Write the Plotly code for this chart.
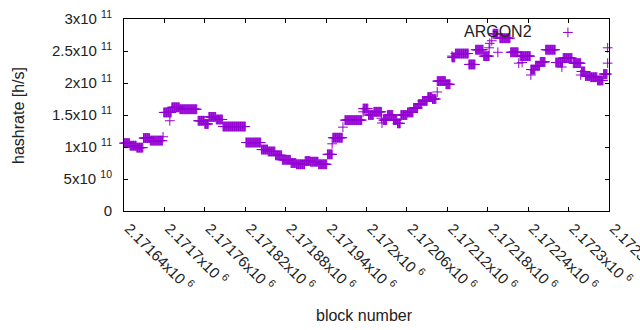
import plotly.graph_objects as go

# Run-length segments of constant hashrate (first block, last block, value)
seg_start = [2171640, 2171649, 2171659, 2171669, 2171679, 2171699, 2171711, 2171723,
             2171750, 2171760, 2171766, 2171777, 2171787, 2171821, 2171844, 2171854,
             2171865, 2171875, 2171888, 2171896, 2171909, 2171917, 2171929, 2171942,
             2171950, 2171968, 2171995, 2172003, 2172011, 2172025, 2172031, 2172040,
             2172046, 2172051, 2172061, 2172070, 2172077, 2172083, 2172091, 2172098,
             2172105, 2172118, 2172127, 2172132, 2172152, 2172162, 2172174, 2172188,
             2172198, 2172214, 2172228, 2172244, 2172251, 2172258, 2172266, 2172281,
             2172292, 2172307, 2172319, 2172325, 2172333, 2172343, 2172352]
seg_end = [2171648, 2171658, 2171668, 2171678, 2171697, 2171710, 2171722, 2171748,
           2171759, 2171765, 2171776, 2171786, 2171820, 2171843, 2171853, 2171864,
           2171874, 2171887, 2171895, 2171908, 2171916, 2171928, 2171941, 2171949,
           2171964, 2171993, 2172002, 2172010, 2172022, 2172030, 2172039, 2172045,
           2172050, 2172060, 2172069, 2172076, 2172082, 2172090, 2172097, 2172103,
           2172117, 2172124, 2172131, 2172151, 2172161, 2172173, 2172182, 2172195,
           2172213, 2172225, 2172243, 2172250, 2172257, 2172265, 2172280, 2172291,
           2172305, 2172318, 2172324, 2172332, 2172342, 2172351, 2172357]
seg_value = [1.06e11, 1.02e11, 0.99e11, 1.14e11, 1.10e11, 1.54e11, 1.62e11, 1.59e11,
             1.41e11, 1.36e11, 1.47e11, 1.43e11, 1.32e11, 1.07e11, 0.96e11, 0.93e11,
             0.87e11, 0.80e11, 0.75e11, 0.73e11, 0.78e11, 0.77e11, 0.73e11, 0.885e11,
             1.145e11, 1.42e11, 1.60e11, 1.50e11, 1.55e11, 1.42e11, 1.50e11, 1.42e11,
             1.37e11, 1.50e11, 1.54e11, 1.61e11, 1.67e11, 1.72e11, 1.78e11, 1.75e11,
             2.03e11, 1.98e11, 2.40e11, 2.46e11, 2.29e11, 2.52e11, 2.42e11, 2.77e11,
             2.70e11, 2.48e11, 2.42e11, 2.21e11, 2.27e11, 2.33e11, 2.52e11, 2.32e11,
             2.39e11, 2.31e11, 2.18e11, 2.11e11, 2.09e11, 2.04e11, 2.14e11]

# Individual outlying blocks
single_block = [2171698, 2171708, 2171949, 2171965, 2171995, 2172022, 2172023, 2172105,
                2172127, 2172182, 2172183, 2172186, 2172195, 2172226, 2172231, 2172244,
                2172290, 2172299, 2172318, 2172358, 2172358]
single_value = [1.16e11, 1.41e11, 1.05e11, 1.31e11, 1.55e11, 1.45e11, 1.375e11, 1.86e11,
                2.42e11, 2.55e11, 2.62e11, 2.66e11, 2.48e11, 2.31e11, 2.32e11, 2.125e11,
                2.25e11, 2.79e11, 2.125e11, 2.31e11, 2.55e11]

x_tickvals = [2171640 + 60 * k for k in range(13)]
x_ticktext = ["2.17164x10 <sup>6</sup>", "2.1717x10 <sup>6</sup>", "2.17176x10 <sup>6</sup>",
              "2.17182x10 <sup>6</sup>", "2.17188x10 <sup>6</sup>", "2.17194x10 <sup>6</sup>",
              "2.172x10 <sup>6</sup>", "2.17206x10 <sup>6</sup>", "2.17212x10 <sup>6</sup>",
              "2.17218x10 <sup>6</sup>", "2.17224x10 <sup>6</sup>", "2.1723x10 <sup>6</sup>",
              "2.17236x10 <sup>6</sup>"]
y_tickvals = [0, 5e10, 1e11, 1.5e11, 2e11, 2.5e11, 3e11]
y_ticktext = ["0", "5x10 <sup>10</sup>", "1x10 <sup>11</sup>", "1.5x10 <sup>11</sup>",
              "2x10 <sup>11</sup>", "2.5x10 <sup>11</sup>", "3x10 <sup>11</sup>"]

xs, ys = [], []
for a, b, v in zip(seg_start, seg_end, seg_value):
    for blk in range(a, b + 1):
        xs.append(blk)
        ys.append(v)
xs += single_block
ys += single_value

COLOR = "#9400D3"
FONT = "Liberation Sans"

fig = go.Figure()
fig.add_trace(go.Scatter(
    x=xs, y=ys, mode="markers", cliponaxis=False,
    marker=dict(symbol="cross-thin", size=7, line=dict(width=1, color=COLOR), color=COLOR),
    showlegend=False, hoverinfo="skip",
))

axis_common = dict(
    showline=True, linecolor="black", linewidth=1, mirror="ticks",
    ticks="inside", ticklen=4, tickcolor="black", showgrid=False, zeroline=False,
    tickfont=dict(family=FONT, size=15, color="#222"), automargin=False,
    ticklabeloverflow="allow",
)
fig.update_xaxes(range=[2171640, 2172360], tickvals=x_tickvals, ticktext=x_ticktext,
                 tickangle=45, ticklabelstandoff=2, ticklabelshift=5, **axis_common)
fig.update_yaxes(range=[0, 3e11], tickvals=y_tickvals, ticktext=y_ticktext,
                 ticklabelstandoff=8, **axis_common)

fig.update_layout(
    width=640, height=330,
    margin=dict(l=124, r=31, t=19, b=119, autoexpand=False),
    plot_bgcolor="white", paper_bgcolor="white",
    font=dict(family=FONT, size=15, color="#222"),
    annotations=[
        dict(text="ARGON2", xref="paper", yref="paper", x=0.846, y=0.935,
             xanchor="right", yanchor="middle", showarrow=False,
             font=dict(family=FONT, size=16, color="#222")),
        dict(text="hashrate [h/s]", xref="paper", yref="paper", x=-0.2186, y=0.5,
             xanchor="center", yanchor="middle", textangle=-90, showarrow=False,
             font=dict(family=FONT, size=16, color="#222")),
        dict(text="block number", xref="paper", yref="paper", x=0.495, y=-0.542,
             xanchor="center", yanchor="middle", showarrow=False,
             font=dict(family=FONT, size=16, color="#222")),
    ],
)

fig.write_html("out.html", config={"displayModeBar": False},
               post_script="document.body.style.margin='0';")
